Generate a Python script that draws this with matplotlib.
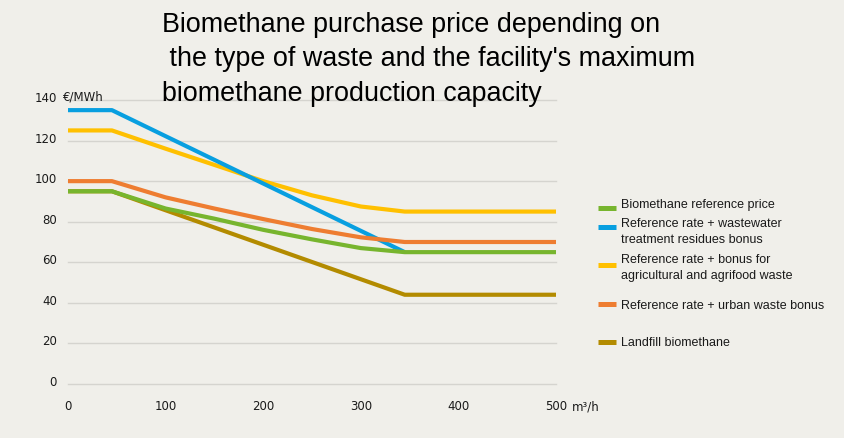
import matplotlib
matplotlib.use("Agg")
import matplotlib.pyplot as plt
from matplotlib.transforms import ScaledTranslation
from matplotlib.lines import Line2D

# ---- data ----
capacity_ref = [0, 45, 100, 150, 200, 250, 300, 345, 500]
reference_price = [95, 95, 86.5, 81.5, 76, 71.3, 67, 65, 65]
wastewater_x = [0, 45, 345]
wastewater = [135, 135, 65]
agri = [125, 125, 116, 108, 100, 93, 87.5, 85, 85]
urban = [100, 100, 92, 86.5, 81.3, 76.4, 72.3, 70, 70]
landfill_x = [0, 45, 345, 500]
landfill = [95, 95, 44, 44]

labels = ["Biomethane reference price",
          "Reference rate + wastewater\ntreatment residues bonus",
          "Reference rate + bonus for\nagricultural and agrifood waste",
          "Reference rate + urban waste bonus",
          "Landfill biomethane"]
colors = ["#77B52E", "#089FE0", "#FFC000", "#EE7D31", "#B38B00"]

x_ticks = [0, 100, 200, 300, 400, 500]
y_ticks = [0, 20, 40, 60, 80, 100, 120, 140]

title = "Biomethane purchase price depending on\n the type of waste and the facility's maximum\nbiomethane production capacity"

BG = "#F0EFEA"
W, H = 844, 439
fig = plt.figure(figsize=(W / 100, H / 100), dpi=100, facecolor=BG)
ax = fig.add_axes([68 / W, 1 - 385 / H, 488 / W, 284 / H])
ax.set_facecolor(BG)
ax.set_xlim(0, 500)
ax.set_ylim(0, 140)

lw = 3.0
ax.plot(landfill_x, landfill, color=colors[4], lw=lw, zorder=3, clip_on=False, solid_capstyle="butt")
ax.plot(capacity_ref, agri, color=colors[2], lw=lw, zorder=4, clip_on=False, solid_capstyle="butt")
ax.plot(wastewater_x, wastewater, color=colors[1], lw=lw, zorder=5, clip_on=False, solid_capstyle="butt")
ax.plot(capacity_ref, urban, color=colors[3], lw=lw, zorder=6, clip_on=False, solid_capstyle="butt")
ax.plot(capacity_ref, reference_price, color=colors[0], lw=lw, zorder=7, clip_on=False, solid_capstyle="butt")

for s in ax.spines.values():
    s.set_visible(False)
ax.set_yticks(y_ticks)
ax.set_xticks(x_ticks)
ax.grid(axis="y", color="#D5D4CF", lw=1.0)
ax.grid(axis="x", visible=False)
for gl in ax.get_ygridlines():
    gl.set_clip_on(False)
ax.set_axisbelow(True)
ax.tick_params(length=0, labelsize=8.5, colors="#1a1a1a")
ax.tick_params(axis="y", pad=8)
ax.tick_params(axis="x", pad=11)
for lab in ax.get_yticklabels():
    lab.set_fontfamily("DejaVu Sans")
    lab.set_transform(lab.get_transform() + ScaledTranslation(0, 4 / 100, fig.dpi_scale_trans))
for lab in ax.get_xticklabels():
    lab.set_fontfamily("DejaVu Sans")

fig.text(63 / W, 1 - 97 / H, "€/MWh", fontsize=8.5, family="DejaVu Sans", color="#1a1a1a",
         ha="left", va="center")
fig.text(572 / W, 1 - 407 / H, "m³/h", fontsize=8.5, family="DejaVu Sans", color="#1a1a1a",
         ha="left", va="center")

fig.text(162 / W, 1 - 12 / H, title, fontsize=19.4, family="Liberation Sans", color="black",
         ha="left", va="top", linespacing=1.42)

# legend
handle_y = [209, 228, 266, 305, 343]
text_y = [205, 232, 268, 306, 343]
for c, lab, hy, ty in zip(colors, labels, handle_y, text_y):
    fig.add_artist(Line2D([598 / W, 616 / W], [1 - hy / H, 1 - hy / H], color=c, lw=3.6,
                          solid_capstyle="butt", transform=fig.transFigure))
    fig.text(621 / W, 1 - ty / H, lab, fontsize=9, family="Liberation Sans", color="#1a1a1a",
             ha="left", va="center", linespacing=1.35)

fig.savefig("out.png", dpi=100, facecolor=BG)
